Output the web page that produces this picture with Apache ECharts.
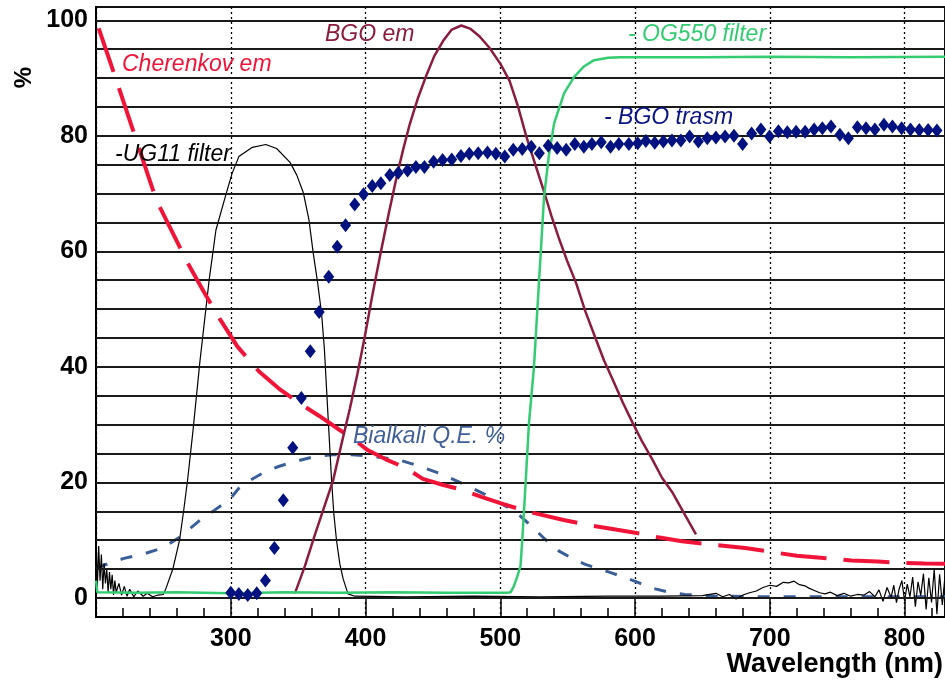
<!DOCTYPE html>
<html>
<head>
<meta charset="utf-8">
<script src="https://cdn.jsdelivr.net/npm/echarts@6/dist/echarts.min.js"></script>
<style>html,body{margin:0;padding:0;background:#fff}#c{width:945px;height:684px}</style>
</head>
<body>
<div id="c"></div>
<script>
// ---- data (wavelength nm, %) ----
const xTickLabels = [300, 400, 500, 600, 700, 800];
const yTickLabels = [0, 20, 40, 60, 80, 100];
const yGridValues = [0,5,10,15,20,25,30,35,40,45,50,55,60,65,70,75,80,85,90,95,100];

const cherenkov = [[202,98.6],[215,89.7],[230,79.2],[244.7,68.9],[259.5,62.0],[268,58.0],[280,53],[291.6,48.4],[305,43.5],[321,39.2],[337,36],[353,33.4],[365.7,31.5],[380,29.2],[391.6,27.4],[401.5,25.6],[415,24],[430,22.5],[442.5,20.6],[457,19.6],[472,18.7],[486,17.5],[500,16.4],[519.7,15.0],[547,13.5],[566,12.6],[586.7,11.8],[600,11.3],[617,10.5],[634.8,9.8],[658,9.2],[681.7,8.65],[700,8.0],[720,7.3],[740,6.9],[760.8,6.5],[780,6.3],[799,6.05],[815,5.95],[830,5.9]];

const ug11 = [[200,11],[201,2],[202,9],[203,3],[204,7.5],[205,1.5],[206,6],[207,2.5],[208,5],[209,1],[210,4.5],[211,1.5],[212,4],[213,0.5],[214,3],[215,1],[217,2.5],[219,0.5],[221,2],[223,0.3],[225,1.5],[228,0.2],[231,1.2],[235,0.3],[238,0.8],[242,0.2],[246,0.5],[250,0.6],[252,1.7],[257,5],[262,10],[265,15],[268,20.5],[272,29],[277,40.7],[284,55.1],[289,63.7],[296.6,70],[301,73.5],[306,76.4],[316,78],[326,78.5],[334,77.8],[344,75.4],[349,73.2],[353.8,70.2],[358,65.5],[361.2,59.7],[364.5,54.5],[367.4,49.2],[369.5,43],[371.1,36.1],[373,28],[374.8,20.4],[376.5,14.5],[378.5,9.9],[381,5.8],[383.4,3.3],[387,0.7],[392,0.3],[430,0.2],[480,0.3],[530,0.2],[580,0.3],[620,0.3],[650,0.4],[660,0.8],[665,0.2],[670,0.6],[675,-0.2],[680,0.5],[685,0.9],[690,1.2],[695,1.8],[700,2.2],[705,2.0],[710,2.7],[714,2.6],[718,2.9],[722,2.3],[726,2.1],[729,1.7],[733,1.3],[737,0.9],[741,0.7],[745,1.0],[750,0.4],[755,0.8],[760,0.3],[765,0.6],[770,0.5],[774,1.1],[778,0.2],[781,1.4],[784,-0.6],[787,1.8],[790,0.1],[792,2.2],[794,-0.8],[796,1.6],[798,3.0],[800,-0.5],[802,2.4],[804,0.2],[806,3.6],[808,-1.5],[810,2.8],[812,0.4],[814,4.2],[816,-2.0],[818,3.5],[820,-0.8],[822,5.0],[824,-2.8],[826,4.1],[828,-1.2],[830,3.8]];

const bialkaliQE = [[200,5.2],[210,6],[220,6.8],[235,7.6],[249.6,8.65],[262,10.5],[276.8,13.4],[288,15.2],[299,17],[306,19],[316,20.6],[326,21.9],[336,22.8],[346,23.5],[361,24.4],[375.5,24.8],[390,24.8],[400,24.6],[412,24.3],[425,23.9],[440,22.8],[454.6,21.6],[474,19.6],[489,17.9],[500,16.4],[511,15],[523.8,12.3],[533,10.2],[543.6,8.1],[553,6.9],[563,5.8],[583,4.3],[593,3.5],[603,2.6],[612.8,1.7],[625,1.0],[637,0.6],[660,0.3],[700,0.2],[760,0.2],[830,0.2]];

const bgoEm = [[347.6,0.8],[355,5.5],[362.4,10.9],[369,15.5],[376,20.4],[382,26.5],[388.4,32.8],[394,38.8],[399.5,45.3],[405,52.3],[410.6,59],[417,66.3],[423,72.8],[428,77.7],[432.8,82],[439,86.6],[445.2,90.5],[451,93.8],[457.5,96.4],[464,98.4],[471.1,99.1],[478,98.5],[484.7,97.2],[492.1,95.2],[500,92.5],[506.9,89.5],[513,85.2],[519.3,79.9],[526,75],[532.8,70.1],[538,66.1],[543.9,62],[550,58.1],[556.3,54.5],[563,49.7],[571.1,44.7],[577,41.1],[583.4,37.8],[591,33.8],[598.2,30.3],[605,27.2],[613,23.9],[620,20.8],[627.9,18.2],[636,14.8],[645.2,11]];

const og550 = [[200,3],[201,1],[230,0.9],[260,1.0],[300,0.8],[340,1.0],[380,0.9],[420,1.0],[460,0.9],[500,0.9],[505,0.9],[507.7,1.0],[510,2],[512.6,3.7],[515,5.5],[516.3,10],[518.8,19.9],[521.3,30.3],[525,40],[527.5,49.9],[530,59.7],[532.5,69.5],[536,76.5],[540,82.2],[547.4,87.4],[554.8,90.2],[562,92],[569.6,93.1],[580,93.5],[589,93.6],[650,93.6],[700,93.7],[760,93.6],[830,93.7]];

const bgoTrasm = [[300,0.9],[306,0.7],[312.6,0.5],[319.3,0.8],[325.7,3.0],[332.4,8.65],[339,16.9],[346,26],[352.4,34.6],[359,42.7],[365.6,49.5],[372.7,55.6],[379,60.8],[385.2,64.5],[392,68.1],[398.5,69.9],[405,71.3],[411.4,71.8],[418,73.2],[424.3,73.6],[431.2,74],[437.4,74.6],[443.7,74.6],[450.5,75.5],[457.2,75.8],[464,75.9],[470.8,76.5],[477,76.9],[483.6,77],[490.5,77.1],[496.7,76.9],[503.3,76.4],[509.6,77.6],[516.3,77.7],[523,78.1],[529,77],[535.6,78.3],[542.2,77.9],[548.9,77.6],[555.3,78.6],[562,78.1],[568,78.6],[574.9,78.9],[581.8,78.1],[588,78.6],[595.4,78.6],[602,78.7],[608,79.1],[614.6,78.8],[621,79],[627.4,79.2],[634,79.2],[640.5,79.9],[647,79],[653.6,79.6],[660,79.7],[666.8,79.9],[673.4,80],[679.8,78.6],[686.5,80.4],[693.4,81.1],[699.8,79.9],[706.4,80.8],[713,80.6],[719.5,80.7],[726.2,80.7],[732.9,81.1],[739,81.3],[745.4,81.6],[752,80.2],[758.3,79.6],[765,81.5],[771.4,81.3],[778,81.1],[784.7,81.9],[791,81.6],[797.8,81.3],[804.4,81.1],[810.9,81],[817.5,81],[824,80.9]];

const labels = [
  {text:'Cherenkov em', x:122, y:65, color:'#f01438'},
  {text:'-UG11 filter', x:115, y:155, color:'#000000'},
  {text:'BGO em', x:325, y:35, color:'#8c1c3e'},
  {text:'- OG550 filter', x:628, y:35, color:'#33cc70'},
  {text:'- BGO trasm', x:604, y:118, color:'#0a1585'},
  {text:'Bialkali Q.E. %', x:353, y:437, color:'#3f5f9a'}
];

const FONT = '"Liberation Sans", Arial, sans-serif';
const chart = echarts.init(document.getElementById('c'), null, {renderer:'canvas'});
chart.setOption({
  animation:false,
  backgroundColor:'#fff',
  grid:{left:96, right:0, top:7, bottom:67, show:true, borderColor:'#111', borderWidth:2, backgroundColor:'transparent'},
  xAxis:{
    type:'value', min:200, max:830, interval:100,
    axisLine:{show:true, onZero:false, lineStyle:{color:'#000', width:2}},
    axisTick:{show:true, inside:true, length:19, lineStyle:{color:'#000', width:1.5}},
    minorTick:{show:true, splitNumber:5, length:9, lineStyle:{color:'#000', width:1.5}},
    axisLabel:{show:true, margin:10, color:'#000', fontFamily:FONT, fontWeight:'bold', fontSize:25,
      showMinLabel:false, showMaxLabel:false,
      formatter:v => xTickLabels.indexOf(v) >= 0 ? String(v) : ''},
    splitLine:{show:true, lineStyle:{color:'#000', width:1.3, type:[2,3]}}
  },
  yAxis:{
    type:'value', min:-3.3, max:102.3,
    axisLine:{show:true, lineStyle:{color:'#000', width:2}},
    axisTick:{show:false},
    axisLabel:{show:true, customValues:yTickLabels, margin:8, color:'#000', fontFamily:FONT, fontWeight:'bold', fontSize:25},
    splitLine:{show:false}
  },
  graphic:[
    {type:'text', left:12, top:67, rotation:Math.PI/2, style:{text:'%', font:'bold 24px '+FONT, fill:'#000'}},
    {type:'text', right:2, top:651, style:{text:'Wavelength (nm)', font:'bold 27px '+FONT, fill:'#000'}}
  ].concat(labels.map(l => ({type:'text', x:l.x, y:l.y, z:100,
      style:{text:l.text, font:'italic 23px '+FONT, fill:l.color, textVerticalAlign:'middle', textBaseline:'middle'}}))),
  series:[
    {type:'line', data:[], z:1, silent:true,
      markLine:{silent:true, symbol:['none','none'], label:{show:false}, animation:false,
        lineStyle:{color:'#1a1a1a', width:2, type:'solid'},
        data:yGridValues.map(v => ({yAxis:v}))}},
    {name:'Bialkali Q.E.', type:'line', data:bialkaliQE, showSymbol:false, z:3,
      lineStyle:{color:'#3a5e98', width:3, type:[12,14]}},
    {name:'UG11', type:'line', data:ug11, showSymbol:false, z:4,
      lineStyle:{color:'#000', width:1.2}},
    {name:'Cherenkov', type:'line', data:cherenkov, showSymbol:false, z:5,
      lineStyle:{color:'#f01438', width:4, type:[46,17]}},
    {name:'BGO em', type:'line', data:bgoEm, showSymbol:false, z:5,
      lineStyle:{color:'#8c1c3e', width:2.5}},
    {name:'OG550', type:'line', data:og550, showSymbol:false, z:6,
      lineStyle:{color:'#33cc70', width:2.5}},
    {name:'BGO trasm', type:'scatter', data:bgoTrasm, symbol:'diamond', symbolSize:[11,14], z:7,
      itemStyle:{color:'#00127f', opacity:1}}
  ]
});
</script>
</body>
</html>
